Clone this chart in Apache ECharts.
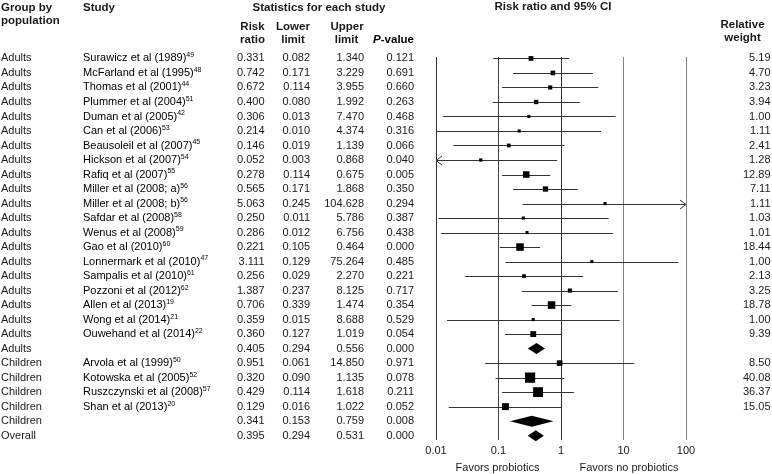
<!DOCTYPE html>
<html><head><meta charset="utf-8">
<script src="https://cdn.jsdelivr.net/npm/echarts@6/dist/echarts.min.js"></script>
<style>html,body{margin:0;padding:0;background:#fff}#c{width:772px;height:474px}</style>
</head><body><div id="c"></div>
<script>
const groups = ['Adults','Adults','Adults','Adults','Adults','Adults','Adults','Adults','Adults','Adults','Adults','Adults','Adults','Adults','Adults','Adults','Adults','Adults','Adults','Adults','Adults','Children','Children','Children','Children','Children','Overall'];
const studies = ['Surawicz et al (1989)','McFarland et al (1995)','Thomas et al (2001)','Plummer et al (2004)','Duman et al (2005)','Can et al (2006)','Beausoleil et al (2007)','Hickson et al (2007)','Rafiq et al (2007)','Miller et al (2008; a)','Miller et al (2008; b)','Safdar et al (2008)','Wenus et al (2008)','Gao et al (2010)','Lonnermark et al (2010)','Sampalis et al (2010)','Pozzoni et al (2012)','Allen et al (2013)','Wong et al (2014)','Ouwehand et al (2014)','','Arvola et al (1999)','Kotowska et al (2005)','Ruszczynski et al (2008)','Shan et al (2013)','',''];
const refs = ['49','48','44','51','42','53','45','54','55','56','56','58','59','60','47','61','62','19','21','22','','50','52','57','20','',''];
const riskRatio = [0.331,0.742,0.672,0.400,0.306,0.214,0.146,0.052,0.278,0.565,5.063,0.250,0.286,0.221,3.111,0.256,1.387,0.706,0.359,0.360,0.405,0.951,0.320,0.429,0.129,0.341,0.395];
const lowerLimit = [0.082,0.171,0.114,0.080,0.013,0.010,0.019,0.003,0.114,0.171,0.245,0.011,0.012,0.105,0.129,0.029,0.237,0.339,0.015,0.127,0.294,0.061,0.090,0.114,0.016,0.153,0.294];
const upperLimit = [1.340,3.229,3.955,1.992,7.470,4.374,1.139,0.868,0.675,1.868,104.628,5.786,6.756,0.464,75.264,2.270,8.125,1.474,8.688,1.019,0.556,14.850,1.135,1.618,1.022,0.759,0.531];
const pValue = [0.121,0.691,0.660,0.263,0.468,0.316,0.066,0.040,0.005,0.350,0.294,0.387,0.438,0.000,0.485,0.221,0.717,0.354,0.529,0.054,0.000,0.971,0.078,0.211,0.052,0.008,0.000];
const relWeight = [5.19,4.70,3.23,3.94,1.00,1.11,2.41,1.28,12.89,7.11,1.11,1.03,1.01,18.44,1.00,2.13,3.25,18.78,1.00,9.39,null,8.50,40.08,36.37,15.05,null,null];
const xTicks = ['0.01','0.1','1','10','100'];

const FONT = '"Liberation Sans", Arial, Helvetica, sans-serif';
const TXT = '#1a1a1a';
const FS = 11;
const HFS = 11.5;
const X_MIN = 0.01, X_MAX = 100;

const ciData = riskRatio.map((v, i) => [v, lowerLimit[i], upperLimit[i], i, relWeight[i] == null ? 0 : relWeight[i]]);
const textData = groups.map((g, i) => [1, i]);

function renderCI(params, api) {
  const i = params.dataIndex;
  const row = api.value(3);
  const rr = api.value(0), lo = api.value(1), hi = api.value(2), w = api.value(4);
  const y = api.coord([1, row])[1];
  const px = v => api.coord([Math.min(Math.max(v, X_MIN), X_MAX), row])[0];
  if (studies[i] === '') {
    return {
      type: 'polygon',
      shape: { points: [[px(lo), y], [px(rr), y - 5.5], [px(hi), y], [px(rr), y + 5.5]] },
      style: { fill: '#000' }
    };
  }
  const children = [];
  const yl = Math.round(y) + 0.5;
  children.push({ type: 'line', shape: { x1: px(lo), y1: yl, x2: px(hi), y2: yl }, style: { stroke: '#333', lineWidth: 1 } });
  const s = 1.7 + 1.35 * Math.sqrt(w);
  const cx = px(rr);
  children.push({ type: 'rect', shape: { x: cx - s / 2, y: y - s / 2, width: s, height: s }, style: { fill: '#000' } });
  if (lo < X_MIN) {
    const x0 = px(lo);
    children.push({ type: 'polyline', shape: { points: [[x0 + 6, yl - 4.5], [x0, yl], [x0 + 6, yl + 4.5]] }, style: { stroke: '#333', lineWidth: 1, fill: null } });
  }
  if (hi > X_MAX) {
    const x1 = px(hi);
    children.push({ type: 'polyline', shape: { points: [[x1 - 6, yl - 4.5], [x1, yl], [x1 - 6, yl + 4.5]] }, style: { stroke: '#333', lineWidth: 1, fill: null } });
  }
  return { type: 'group', children };
}

function txt(x, y, text, align, extra) {
  return { type: 'text', x: x, y: y, style: Object.assign({ text: text, align: align, verticalAlign: 'middle', font: FS + 'px ' + FONT, fill: TXT }, extra || {}) };
}

function renderText(params, api) {
  const i = params.dataIndex;
  const y = api.coord([1, api.value(1)])[1];
  const ch = [];
  ch.push(txt(1, y, groups[i], 'left'));
  if (studies[i] !== '') {
    ch.push({ type: 'text', x: 83, y: y, style: {
      text: '{a|' + studies[i] + '}{s|' + refs[i] + '}', align: 'left', verticalAlign: 'middle',
      rich: { a: { fontSize: FS, fontFamily: FONT, color: TXT, lineHeight: 13 }, s: { fontSize: 7, fontFamily: FONT, color: TXT, verticalAlign: 'top' } }
    } });
  }
  ch.push(txt(264.5, y, riskRatio[i].toFixed(3), 'right'));
  ch.push(txt(310, y, lowerLimit[i].toFixed(3), 'right'));
  ch.push(txt(364, y, upperLimit[i].toFixed(3), 'right'));
  ch.push(txt(414, y, pValue[i].toFixed(3), 'right'));
  if (relWeight[i] != null) ch.push(txt(770.5, y, relWeight[i].toFixed(2), 'right'));
  return { type: 'group', children: ch };
}

function head(x, y, text, align) {
  return { type: 'text', x: x, y: y, style: { text: text, align: align, verticalAlign: 'middle', font: 'bold ' + HFS + 'px ' + FONT, fill: TXT } };
}

const chart = echarts.init(document.getElementById('c'), null, { renderer: 'canvas' });
chart.setOption({
  animation: false,
  backgroundColor: '#fff',
  grid: { left: 436, right: 86, top: 57, bottom: 34, containLabel: false },
  xAxis: {
    type: 'log', logBase: 10, min: X_MIN, max: X_MAX,
    axisLine: { show: false }, axisTick: { show: false },
    axisLabel: { margin: 5, fontSize: FS, fontFamily: FONT, color: TXT, formatter: (v) => { const e = Math.round(Math.log10(v)); return xTicks[e + 2]; } },
    splitLine: { show: true, showMinLine: true, showMaxLine: true, lineStyle: { color: ['#333', '#444', '#333', '#808080', '#808080'], width: 1 } }
  },
  yAxis: { type: 'value', inverse: true, min: -0.1, max: 26.3, show: false },
  graphic: [
    head(1, 8, 'Group by', 'left'),
    head(1, 21, 'population', 'left'),
    head(83, 8, 'Study', 'left'),
    head(319, 8, 'Statistics for each study', 'center'),
    head(252.5, 26.5, 'Risk', 'center'),
    head(252.5, 40, 'ratio', 'center'),
    head(293, 26.5, 'Lower', 'center'),
    head(293, 40, 'limit', 'center'),
    head(347, 26.5, 'Upper', 'center'),
    head(346.5, 40, 'limit', 'center'),
    { type: 'text', x: 414, y: 40, style: { text: '{i|P}{b|-value}', align: 'right', verticalAlign: 'middle',
      rich: { i: { fontSize: HFS, fontFamily: FONT, fontWeight: 'bold', fontStyle: 'italic', color: TXT }, b: { fontSize: HFS, fontFamily: FONT, fontWeight: 'bold', color: TXT } } } },
    head(553, 7, 'Risk ratio and 95% CI', 'center'),
    head(742.5, 25, 'Relative', 'center'),
    head(742.5, 38, 'weight', 'center'),
    { type: 'text', x: 497.5, y: 468, style: { text: 'Favors probiotics', align: 'center', verticalAlign: 'middle', font: FS + 'px ' + FONT, fill: TXT } },
    { type: 'text', x: 629, y: 468, style: { text: 'Favors no probiotics', align: 'center', verticalAlign: 'middle', font: FS + 'px ' + FONT, fill: TXT } }
  ],
  series: [
    { type: 'custom', name: 'ci', coordinateSystem: 'cartesian2d', clip: false, silent: true, renderItem: renderCI, encode: { x: 0, y: 3 }, data: ciData },
    { type: 'custom', name: 'text', coordinateSystem: 'cartesian2d', clip: false, silent: true, renderItem: renderText, encode: { x: 0, y: 1 }, data: textData }
  ]
});
</script>
</body></html>
